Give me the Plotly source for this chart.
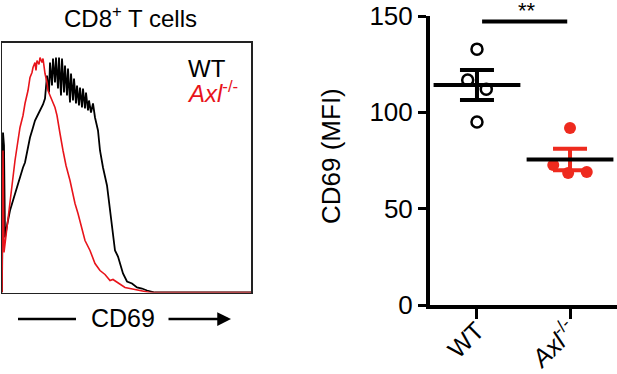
import plotly.graph_objects as go
import numpy as np

# ---------------- data ----------------
# Histogram (CD69 channel vs. normalised count)
wt_channel = [0, 1, 2, 3, 5, 8, 11, 13, 16, 18, 21, 23, 26, 28, 31, 33, 36, 38, 41, 43,
              45, 47, 48, 50, 51, 53, 54, 56, 57, 59, 60, 62, 63, 65, 66, 68, 69, 71, 72,
              74, 75, 77, 78, 80, 81, 83, 84, 86, 87, 89, 91, 93, 96, 98, 101, 105, 108,
              111, 113, 116, 121, 125, 130, 135, 140, 145, 153, 249]
wt_count = [0, 64, 58.8, 22, 26.8, 32.8, 36.8, 39.6, 43.6, 46.8, 50, 52, 57.6, 62, 66, 68.8,
            71.2, 72.8, 75.2, 77.6, 86.8, 80, 92, 82.8, 93.6, 84, 94, 81.6, 94, 78.8, 93.6,
            80, 90.8, 78.8, 89.6, 76, 87.6, 76.8, 85.6, 75.6, 82.8, 74.8, 82, 74, 81.6,
            73.6, 80, 72.8, 76.8, 72, 75.6, 70, 64.8, 56.8, 50, 42.8, 32.8, 24.8, 16.8,
            14.4, 7.6, 4.4, 3.6, 2, 1.6, 0.8, 0, 0]

axl_channel = [0, 1, 2, 5, 8, 11, 13, 16, 18, 21, 23, 26, 28, 30, 31, 33, 34, 35, 37, 38,
               40, 41, 43, 45, 46, 48, 50, 53, 55, 56, 58, 61, 64, 68, 70, 73, 76, 78, 83,
               88, 93, 98, 103, 108, 111, 114, 118, 123, 128, 133, 138, 143, 148, 249]
axl_count = [0, 56.8, 16, 26, 38, 47.6, 52.8, 60.8, 66, 70.8, 75.6, 80.8, 86, 88, 90, 92,
             88.8, 92.8, 91.2, 94, 92, 93.6, 87.6, 84, 80.8, 78.8, 76.8, 74, 70.8, 67.6,
             63.6, 56.8, 50.8, 44.8, 40.8, 35.6, 31.6, 28.8, 20.8, 16.8, 11.6, 8.8, 7.2,
             4.8, 5.2, 4.4, 3.2, 2, 1.6, 1.2, 0.8, 0.4, 0, 0]

# Scatter (CD69 MFI)
groups = ["WT", "Axl-/-"]
group_ticktext = ["WT", "<i>Axl</i><sup>-/-</sup>"]
wt_mfi = [132.8, 116.8, 112.0, 95.0]
axl_mfi = [91.9, 72.7, 68.5, 69.0]
y_ticks = [0, 50, 100, 150]

# ---------------- styling ----------------
FONT = "Arial, Liberation Sans, Helvetica, sans-serif"
BLACK = "#000000"
HRED = "#e8141b"
DRED = "#ee2a1e"
W, H = 617, 374


def px(x):
    return x / W


def py(y):
    return 1 - y / H


fig = go.Figure()

# ---- left panel: histogram ----
fig.add_trace(go.Scatter(x=wt_channel, y=wt_count, mode="lines",
                         line=dict(color=BLACK, width=1.8), xaxis="x", yaxis="y",
                         showlegend=False, hoverinfo="skip"))
fig.add_trace(go.Scatter(x=axl_channel, y=axl_count, mode="lines",
                         line=dict(color=HRED, width=1.6), xaxis="x", yaxis="y",
                         showlegend=False, hoverinfo="skip"))

# ---- right panel: scatter ----
wt_jit = [0, -0.10, 0.10, 0]
axl_jit = [0, -0.18, -0.02, 0.18]


def stats(v):
    a = np.array(v, dtype=float)
    return a.mean(), a.std(ddof=1) / np.sqrt(len(a))


wt_mean, wt_sem = stats(wt_mfi)
axl_mean, axl_sem = stats(axl_mfi)

fig.add_trace(go.Scatter(x=[1 + j for j in wt_jit], y=wt_mfi, mode="markers",
                         marker=dict(symbol="circle-open", size=11, color=BLACK,
                                     line=dict(width=2.5, color=BLACK)),
                         xaxis="x2", yaxis="y2", showlegend=False, cliponaxis=False))
fig.add_trace(go.Scatter(x=[1], y=[wt_mean], mode="markers",
                         marker=dict(symbol="line-ew", size=62, color=BLACK,
                                     line=dict(width=4, color=BLACK)),
                         error_y=dict(type="data", array=[wt_sem], visible=True,
                                      thickness=4, width=17, color=BLACK),
                         xaxis="x2", yaxis="y2", showlegend=False))

fig.add_trace(go.Scatter(x=[2 + j for j in axl_jit], y=axl_mfi, mode="markers",
                         marker=dict(symbol="circle", size=12, color=DRED),
                         xaxis="x2", yaxis="y2", showlegend=False, cliponaxis=False))
fig.add_trace(go.Scatter(x=[2], y=[axl_mean], mode="markers",
                         marker=dict(symbol="line-ew", size=0.1, color=DRED,
                                     line=dict(width=0, color=DRED)),
                         error_y=dict(type="data", array=[axl_sem], visible=True,
                                      thickness=4, width=17, color=DRED),
                         xaxis="x2", yaxis="y2", showlegend=False))
fig.add_trace(go.Scatter(x=[2], y=[axl_mean], mode="markers",
                         marker=dict(symbol="line-ew", size=62, color=BLACK,
                                     line=dict(width=4, color=BLACK)),
                         xaxis="x2", yaxis="y2", showlegend=False))

# significance bar
fig.add_shape(type="line", xref="x2", yref="y2", x0=1.055, x1=1.97, y0=147.1, y1=147.1,
              line=dict(color=BLACK, width=4))

annotations = [
    dict(text="**", x=px(527), y=py(-4), xref="paper", yref="paper", showarrow=False,
         xanchor="center", yanchor="top", font=dict(family=FONT, size=22, color=BLACK)),
    dict(text="CD69 (MFI)", x=px(331), y=py(156), xref="paper", yref="paper",
         showarrow=False, textangle=-90, xanchor="center", yanchor="middle",
         font=dict(family=FONT, size=26, color=BLACK)),
    dict(text="CD8<sup>+</sup> T cells", x=px(130), y=py(17), xref="paper", yref="paper",
         showarrow=False, xanchor="center", yanchor="middle",
         font=dict(family=FONT, size=24, color=BLACK)),
    dict(text="WT", x=px(186), y=py(68), xref="paper", yref="paper", showarrow=False,
         xanchor="left", yanchor="middle", font=dict(family=FONT, size=24, color=BLACK)),
    dict(text="<i>Axl</i><sup>-/-</sup>", x=px(185), y=py(92), xref="paper", yref="paper",
         showarrow=False, xanchor="left", yanchor="middle",
         font=dict(family=FONT, size=24, color=HRED)),
    dict(text="CD69", x=px(123), y=py(318), xref="paper", yref="paper", showarrow=False,
         xanchor="center", yanchor="middle", font=dict(family=FONT, size=25, color=BLACK)),
    dict(text="", x=px(231), y=py(319), xref="paper", yref="paper", showarrow=True,
         ax=-64, ay=0, arrowhead=2, arrowsize=1.1, arrowwidth=2.5, arrowcolor=BLACK),
]
fig.add_shape(type="line", xref="paper", yref="paper", x0=px(18), x1=px(76),
              y0=py(319), y1=py(319), line=dict(color=BLACK, width=2.5))

common = dict(automargin=False, showgrid=False, zeroline=False)

fig.update_layout(
    width=W, height=H,
    margin=dict(l=0, r=0, t=0, b=0, autoexpand=False),
    paper_bgcolor="white", plot_bgcolor="white",
    font=dict(family=FONT, color=BLACK),
    showlegend=False,
    annotations=annotations,
    xaxis=dict(domain=[px(2), px(251)], range=[0, 249], showline=True, mirror=True,
               linecolor="#222222", linewidth=1.5, showticklabels=False, ticks="",
               **common),
    yaxis=dict(domain=[py(292.5), py(42.5)], range=[0, 100], showline=True, mirror=True,
               linecolor="#222222", linewidth=1.5, showticklabels=False, ticks="",
               **common),
    xaxis2=dict(domain=[px(430), 1], range=[0.495, 2.505], anchor="y2",
                tickvals=[1, 2], ticktext=group_ticktext, tickangle=-45,
                ticks="outside", ticklen=10, tickwidth=3, tickcolor=BLACK,
                ticklabelstandoff=-13,
                showline=True, linewidth=4, linecolor=BLACK,
                tickfont=dict(family=FONT, size=25, color=BLACK), **common),
    yaxis2=dict(domain=[py(305), py(16)], range=[0, 150], anchor="x2",
                tickvals=y_ticks, ticks="outside", ticklen=8, tickwidth=3,
                tickcolor=BLACK, showline=True, linewidth=4, linecolor=BLACK,
                tickfont=dict(family=FONT, size=26, color=BLACK), **common),
)

fig.write_html(
    "out.html",
    config={"displayModeBar": False, "staticPlot": True},
    post_script="document.body.style.margin='0';document.body.style.padding='0';"
                "document.documentElement.style.overflow='hidden';",
)
